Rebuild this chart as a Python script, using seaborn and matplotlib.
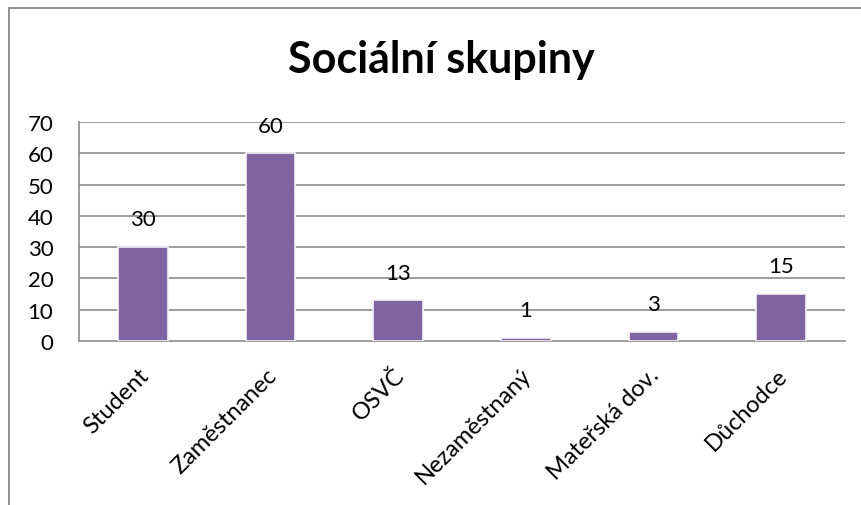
import matplotlib
matplotlib.use("Agg")
import matplotlib.pyplot as plt
import matplotlib.transforms as mtransforms
import seaborn as sns
import pandas as pd

categories = ["Student", "Zaměstnanec", "OSVČ", "Nezaměstnaný", "Mateřská dov.", "Důchodce"]
counts = [30, 60, 13, 1, 3, 15]
y_ticks = [0, 10, 20, 30, 40, 50, 60, 70]
title = "Sociální skupiny"

sns.set_theme(style="white")
plt.rcParams["font.family"] = ["Lato", "DejaVu Sans"]
plt.rcParams["text.color"] = "black"
plt.rcParams["xtick.labelcolor"] = "black"
plt.rcParams["ytick.labelcolor"] = "black"

df = pd.DataFrame({"skupina": categories, "pocet": counts})

fig = plt.figure(figsize=(8.61, 5.06), dpi=100)
ax = fig.add_axes([79 / 861, 1 - 342 / 506, (845 - 79) / 861, (342 - 123) / 506])

grid_color = "#8c8c8c"
for v in y_ticks[1:]:
    ax.axhline(v, color=grid_color, lw=1.2, zorder=0)

sns.barplot(data=df, x="skupina", y="pocet", color="#8064A2", saturation=1,
            width=0.39, edgecolor="#f4f2f7", linewidth=1.2, ax=ax, zorder=3)

ax.set_xlim(-0.5, len(categories) - 0.5)
ax.set_ylim(0, 70)
ax.set_yticks(y_ticks)
ax.set_yticklabels([str(v) for v in y_ticks], fontsize=16)
ax.set_xlabel("")
ax.set_ylabel("")

for s in ["top", "right"]:
    ax.spines[s].set_visible(False)
for s in ["left", "bottom"]:
    ax.spines[s].set_color(grid_color)
    ax.spines[s].set_linewidth(1.2)

# category boundary ticks on the x axis
ax.set_xticks([i - 0.5 for i in range(len(categories) + 1)], minor=True)
ax.tick_params(axis="x", which="minor", length=6, width=1.2, color=grid_color, direction="out")
ax.tick_params(axis="x", which="major", length=0, pad=0)
ax.tick_params(axis="y", length=6.5, width=1.2, color=grid_color, direction="out", pad=12)

shift = mtransforms.ScaledTranslation(-5 / 100, -23 / 100, fig.dpi_scale_trans)
ax.set_xticks(range(len(categories)))
ax.set_xticklabels(categories, rotation=45, ha="right", va="top",
                   rotation_mode="anchor", fontsize=17)
for lbl in ax.get_xticklabels():
    lbl.set_transform(lbl.get_transform() + shift)

for i, v in enumerate(counts):
    ax.annotate(str(v), (i, v), xytext=(0, 20), textcoords="offset points",
                ha="center", va="center", fontsize=16, color="black")

fig.text(441 / 861, 1 - 73 / 506, title, ha="center", va="baseline",
         fontsize=31, fontweight="bold", color="black")

# chart frame
fig.add_artist(plt.Line2D([9 / 861, 9 / 861], [0, 1 - 9 / 506],
                          transform=fig.transFigure, color="#868686", lw=1.3))
fig.add_artist(plt.Line2D([9 / 861, 1], [1 - 9 / 506, 1 - 9 / 506],
                          transform=fig.transFigure, color="#868686", lw=1.3))

fig.savefig("out.png", dpi=100)
